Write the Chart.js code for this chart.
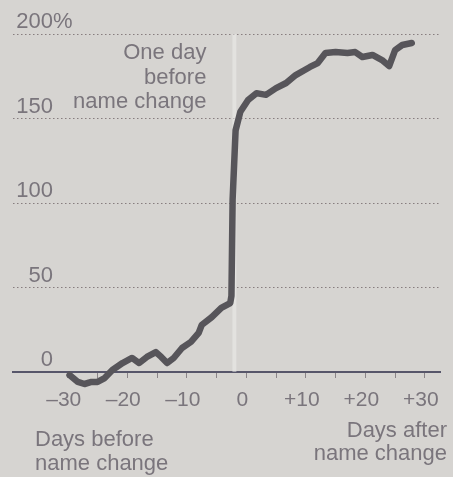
<!DOCTYPE html>
<html>
<head>
<meta charset="utf-8">
<script src="https://cdn.jsdelivr.net/npm/chart.js@4"></script>
<style>
  html, body { margin: 0; padding: 0; background: #d6d4d1; }
  #wrap { width: 453px; height: 477px; }
</style>
</head>
<body>
<div id="wrap"><canvas id="chart"></canvas></div>
<script>
// share price change vs. day relative to the name change
const days = [-29.7, -28.3, -27.2, -26, -25, -23.8, -22.5, -20.8, -19.2, -18, -16.7, -15.2, -14.3, -13.3, -12.2,
  -10.8, -9.3, -8, -7.5, -5.8, -4.2, -2.7, -2.5, -2.3, -1.8, -1, 0.3, 1.7, 3.3, 5, 6.7, 8.3, 10.7, 12, 13.3,
  15, 17, 18.3, 19.5, 21.2, 22.8, 24, 25, 26.2, 27.8];
const pctChange = [-1.8, -5.9, -7.1, -5.9, -5.9, -3.6, 1.2, 5.3, 8.3, 5.3, 8.9, 11.8, 8.9, 5.3, 8.3,
  14.2, 17.8, 23.1, 27.8, 32.5, 37.9, 40.8, 45, 102, 143, 154, 161, 165, 164, 168, 171, 175.7, 180.5, 182.8, 188.8,
  189.3, 188.8, 189.3, 186.4, 187.6, 184.6, 181, 190.5, 193.5, 194.7];

const xTicks = [-30, -25, -20, -15, -10, -5, 0, 5, 10, 15, 20, 25, 30];
const xTickLabels = { '-30': '–30', '-20': '–20', '-10': '–10', '0': '0', '10': '+10', '20': '+20', '30': '+30' };
const yTicks = [0, 50, 100, 150, 200];
const yTickLabels = ['0', '50', '100', '150', '200'];
const yUnit = '%';

const markerDay = -2;
const markerLabel = ['One day', 'before', 'name change'];
const beforeLabel = ['Days before', 'name change'];
const afterLabel = ['Days after', 'name change'];

const FONT = '"Liberation Sans", Arial, sans-serif';
const TEXT = '#7a757c';

const textPlugin = {
  id: 'texts',
  afterDraw(chart) {
    const ctx = chart.ctx;
    const y = chart.scales.y;
    const x = chart.scales.x;
    ctx.save();
    ctx.fillStyle = TEXT;
    ctx.font = '22px ' + FONT;
    ctx.textBaseline = 'alphabetic';

    // y tick labels sit above their gridlines
    yTicks.forEach((v, i) => {
      const py = y.getPixelForValue(v) - 6;
      ctx.textAlign = 'right';
      ctx.fillText(yTickLabels[i], 53, py);
      if (i === yTicks.length - 1) {
        ctx.textAlign = 'left';
        ctx.fillText(yUnit, 53, py);
      }
    });

    // annotation left of the marker line
    ctx.textAlign = 'right';
    const ax = x.getPixelForValue(markerDay) - 28;
    markerLabel.forEach((t, i) => ctx.fillText(t, ax, 59 + i * 24.5));

    ctx.textAlign = 'left';
    beforeLabel.forEach((t, i) => ctx.fillText(t, 35, 446 + i * 24));
    ctx.textAlign = 'right';
    afterLabel.forEach((t, i) => ctx.fillText(t, 447, 437 + i * 23));
    ctx.restore();
  }
};

new Chart(document.getElementById('chart'), {
  type: 'line',
  data: {
    datasets: [
      {
        data: days.map((d, i) => ({ x: d, y: pctChange[i] })),
        borderColor: '#57555a',
        borderWidth: 6.5,
        borderJoinStyle: 'round',
        borderCapStyle: 'round',
        pointRadius: 0,
        tension: 0,
        clip: false,
        order: 0
      },
      {
        data: [{ x: markerDay, y: 0 }, { x: markerDay, y: 200 }],
        borderColor: 'rgba(240,239,237,0.5)',
        borderWidth: 4,
        pointRadius: 0,
        order: 1
      }
    ]
  },
  plugins: [textPlugin],
  options: {
    responsive: true,
    maintainAspectRatio: false,
    animation: false,
    events: [],
    layout: { padding: { top: 34, left: 13, right: 9, bottom: 0 } },
    plugins: { legend: { display: false }, tooltip: { enabled: false } },
    scales: {
      x: {
        type: 'linear',
        min: -39.2,
        max: 32.6,
        afterBuildTicks: s => { s.ticks = xTicks.map(v => ({ value: v })); },
        afterFit: s => { s.height = 105; },
        grid: { drawOnChartArea: false, drawTicks: true, tickLength: 6, tickColor: '#8a8488', tickWidth: 1 },
        border: { display: true, color: '#57566a', width: 2 },
        ticks: {
          autoSkip: false,
          maxRotation: 0,
          padding: 10,
          labelOffset: -4,
          color: TEXT,
          font: { family: FONT, size: 21 },
          callback: v => xTickLabels[String(v)] || ''
        }
      },
      y: {
        min: 0,
        max: 200,
        afterBuildTicks: s => { s.ticks = yTicks.map(v => ({ value: v })); },
        afterFit: s => { s.width = 0; },
        ticks: { display: false },
        grid: { color: '#877d7e', lineWidth: 1, drawTicks: false },
        border: { display: false, dash: [1.5, 2.5] }
      }
    }
  }
});
</script>
</body>
</html>
